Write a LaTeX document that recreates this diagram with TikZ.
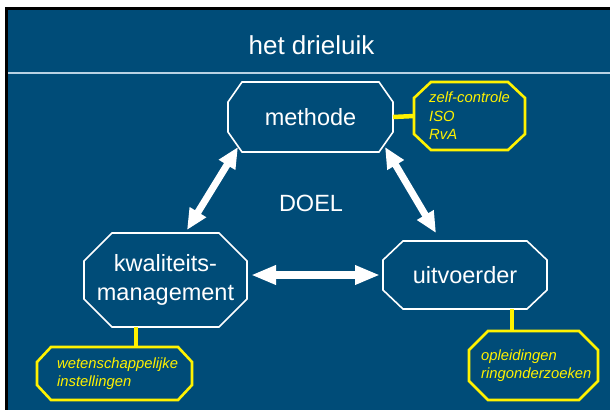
\documentclass[tikz,border=0pt]{standalone}
\usepackage{fontspec}
\setmainfont{Liberation Sans}
\usetikzlibrary{arrows.meta}
\definecolor{slidebg}{RGB}{0,76,120}
\definecolor{sepline}{RGB}{185,210,228}
\newcommand\chamfpath[3]{([xshift=#2]#1.north west) -- ([xshift=-#2]#1.north east) -- ([yshift=-#3]#1.north east) -- ([yshift=#3]#1.south east) -- ([xshift=-#2]#1.south east) -- ([xshift=#2]#1.south west) -- ([yshift=#3]#1.south west) -- ([yshift=-#3]#1.north west) -- cycle}
\begin{document}
\begin{tikzpicture}[x=1pt,y=-1pt,
  box/.style={rectangle, inner sep=0pt, outer sep=0pt, text=white,
    font=\fontsize{23.5}{29.5}\selectfont, align=center},
  notebox/.style={rectangle, inner sep=0pt, outer sep=0pt},
  notetext/.style={anchor=west, inner sep=0pt, text=yellow,
    font=\fontsize{14.8}{18.5}\selectfont\itshape, align=left},
  outline/.style={draw=white, line width=1.6pt, line join=miter},
  noteline/.style={draw=yellow, line width=2.6pt, line join=miter},
  link/.style={yellow, line width=4.5pt},
  dbl/.style={white, line width=7pt,
    arrows={Triangle[length=21pt,width=18pt]-Triangle[length=21pt,width=18pt]}},
  dblh/.style={white, line width=8pt,
    arrows={Triangle[length=25pt,width=18pt]-Triangle[length=25pt,width=18pt]}}
]
\useasboundingbox (0,0) rectangle (610,410);
\fill[white] (0,0) rectangle (610,410);
\fill[black] (5,7) rectangle (610,410);
\fill[slidebg] (8,10) rectangle (610,410);
\draw[sepline, line width=1.5pt] (8,73) -- (610,73);

\node[text=white, inner sep=0pt, font=\fontsize{26}{30}\selectfont] (title) at (311.5,45) {het drieluik};

% main boxes
\node[box, minimum width=165pt, minimum height=70pt] (m) at (310.5,117) {methode};
\node[box, minimum width=163pt, minimum height=94pt] (k) at (165.5,280) {kwaliteits-\\management};
\node[box, minimum width=164pt, minimum height=68pt] (u) at (465,275) {uitvoerder};
\node[text=white, inner sep=0pt, font=\fontsize{23.5}{27}\selectfont] (doel) at (311,203) {DOEL};

\draw[outline] \chamfpath{m}{14pt}{20pt};
\draw[outline] \chamfpath{k}{28pt}{28pt};
\draw[outline] \chamfpath{u}{20pt}{19pt};

% note boxes
\node[notebox, minimum width=111pt, minimum height=68pt] (n1) at (469.5,116) {};
\node[notebox, minimum width=155pt, minimum height=53pt] (n2) at (114.5,373.5) {};
\node[notebox, minimum width=129pt, minimum height=69pt] (n3) at (533.5,365.5) {};

\draw[link] (m.east) -- (n1.west);
\draw[link] ([xshift=-29.5pt]k.south) -- ([xshift=21.5pt]n2.north);
\draw[link] ([xshift=47pt]u.south) -- ([xshift=-21.5pt]n3.north);

\draw[noteline] \chamfpath{n1}{17pt}{16pt};
\draw[noteline] \chamfpath{n2}{14pt}{15pt};
\draw[noteline] \chamfpath{n3}{19pt}{19pt};

\node[notetext] (t1) at ([xshift=15pt]n1.west) {zelf-controle\\ISO\\RvA};
\node[notetext] (t2) at ([xshift=20pt]n2.west) {wetenschappelijke\\instellingen};
\node[notetext] (t3) at ([xshift=12pt]n3.west) {opleidingen\\ringonderzoeken};

% arrows
\draw[dbl] ([xshift=10pt,yshift=5pt]m.south west) -- ([xshift=21.5pt,yshift=3pt]k.north);
\draw[dbl] ([xshift=-8pt,yshift=5pt]m.south east) -- ([xshift=-29pt,yshift=8pt]u.north);
\draw[dblh] ([xshift=4pt,yshift=5pt]k.east) -- ([xshift=-3pt]u.west);
\end{tikzpicture}
\end{document}
